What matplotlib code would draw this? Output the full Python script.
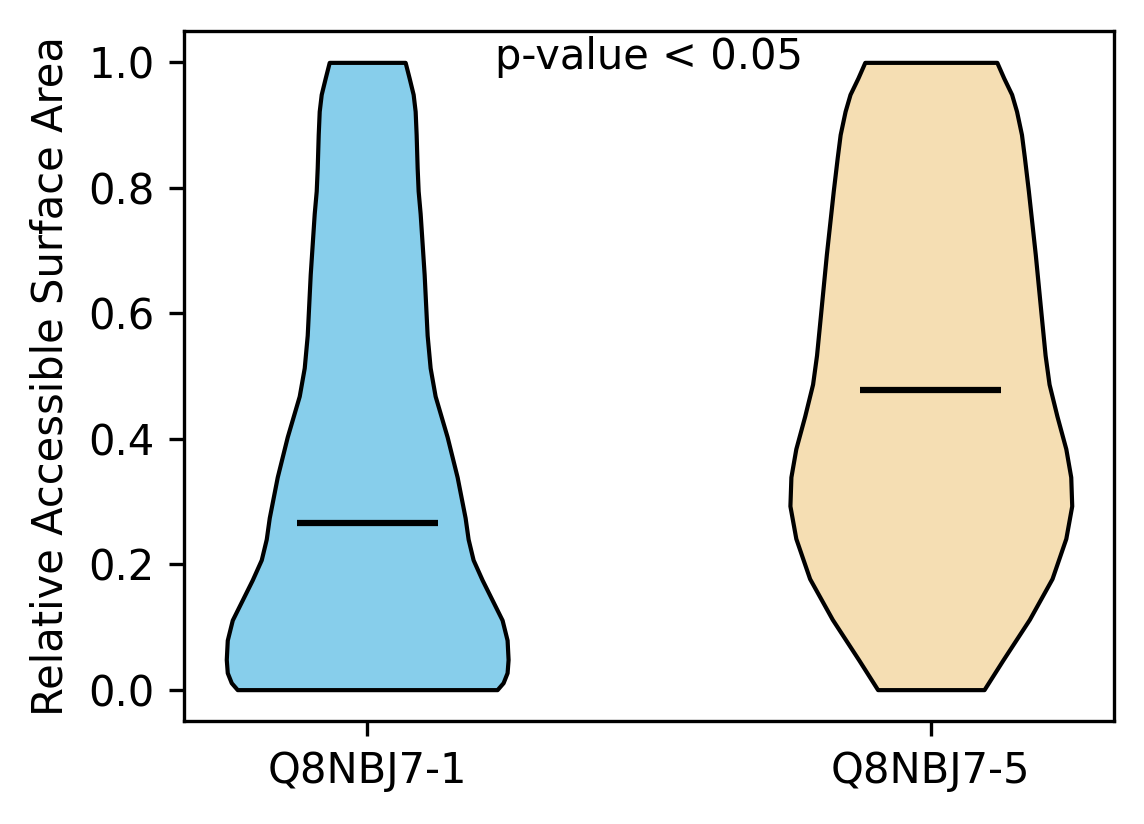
import matplotlib
matplotlib.use("Agg")
import matplotlib.pyplot as plt
import numpy as np

# isoforms compared
labels = ["Q8NBJ7-1", "Q8NBJ7-5"]
colors = ["skyblue", "wheat"]

# density profiles (RSA value -> relative density)
rsa_1 = [0.0, 0.011, 0.027, 0.048, 0.079, 0.111, 0.143, 0.175, 0.207, 0.24,
         0.274, 0.339, 0.403, 0.468, 0.513, 0.565, 0.662, 0.759, 0.795, 0.832,
         0.885, 0.922, 0.949, 0.975, 1.0]
dens_1 = [130, 136, 140, 141, 140, 135, 125, 115, 106, 101,
          98, 90, 80, 68, 63, 60, 57, 53, 51, 50,
          49, 48, 46, 42, 38]

rsa_5 = [0.0, 0.047, 0.112, 0.177, 0.241, 0.293, 0.339, 0.384, 0.436, 0.487,
         0.533, 0.597, 0.694, 0.795, 0.848, 0.885, 0.922, 0.949, 0.975, 1.0]
dens_5 = [54, 73, 100, 123, 137, 143, 142, 137, 128, 120,
          116, 112, 106, 99, 95, 92, 87, 82, 74, 67]

means = [0.265, 0.478]

stats = []
for coords, vals, m in zip([rsa_1, rsa_5], [dens_1, dens_5], means):
    stats.append({
        "coords": np.array(coords),
        "vals": np.array(vals, dtype=float),
        "mean": m,
        "median": m,
        "min": min(coords),
        "max": max(coords),
        "quantiles": [],
    })

fig = plt.figure(figsize=(1144 / 300, 824 / 300), dpi=300)
ax = fig.add_axes([184 / 1144, 1 - 721 / 824, (1114 - 184) / 1144, (721 - 31) / 824])

parts = ax.violin(stats, positions=[1, 2], widths=0.5,
                  showmeans=True, showextrema=False, showmedians=False)
for body, c in zip(parts["bodies"], colors):
    body.set_facecolor(c)
    body.set_edgecolor("black")
    body.set_linewidth(1)
    body.set_joinstyle("round")
    body.set_alpha(1)
parts["cmeans"].set_color("black")
parts["cmeans"].set_linewidth(1.5)

ax.set_xticks([1, 2])
ax.set_xticklabels(labels)
ax.set_xlim(0.675, 2.325)
ax.set_ylim(-0.05, 1.05)
ax.set_ylabel("Relative Accessible Surface Area")
ax.text(1.5, 0.99, "p-value < 0.05", ha="center")

fig.savefig("out.png", dpi=300)
